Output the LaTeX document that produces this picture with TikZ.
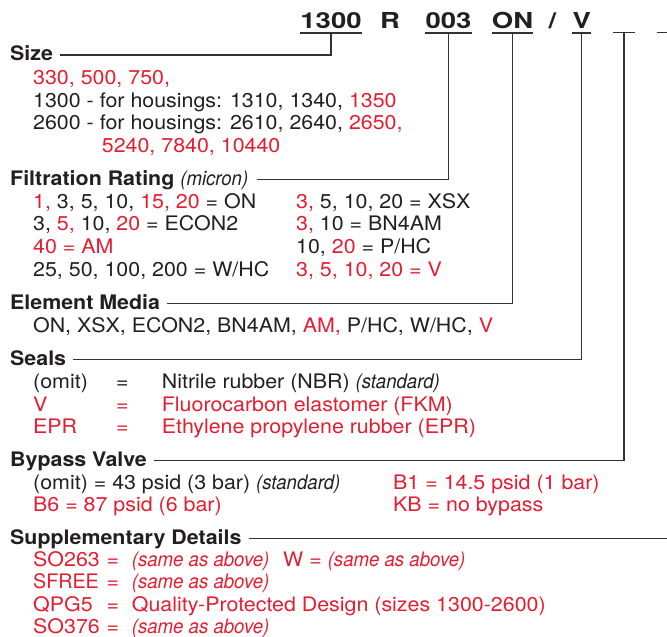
\documentclass[tikz,border=0pt]{standalone}
\usepackage{fontspec}
\setmainfont{TeX Gyre Heros}[FakeStretch=1.07]
\newfontfamily\itf{TeX Gyre Heros}[FakeStretch=0.93]
\newfontfamily\codef{TeX Gyre Heros}[FakeStretch=1.25]
\definecolor{rd}{RGB}{228,30,48}
\definecolor{ink}{RGB}{35,31,32}
\definecolor{ln}{RGB}{50,50,50}
\newcommand{\redt}[1]{\textcolor{rd}{#1}}
\newcommand{\myit}[1]{{\itf\itshape #1}}
\begin{document}
\begin{tikzpicture}[x=1pt,y=-1pt,
  txt/.style={anchor=base west, inner sep=0pt, text=ink, font=\fontsize{20}{24}\selectfont},
  redtxt/.style={txt, text=rd},
  head/.style={txt, font=\fontsize{20}{24}\selectfont\bfseries},
  codeseg/.style={anchor=base, inner sep=0pt, text depth=4.4pt, text=ink, font=\codef\fontsize{22}{26}\selectfont\bfseries},
  conn/.style={draw=ln, line width=1.2pt},
  uline/.style={draw=ln, line width=1.5pt},
]
\useasboundingbox (0,0) rectangle (667,637);

% ---- code line ----
\node[codeseg] (c1300) at (331,28.3) {1300};
\node[codeseg] (cR) at (390,28.3) {R};
\node[codeseg] (c003) at (448.5,28.3) {003};
\node[codeseg] (cON) at (512.5,28.3) {ON};
\node[codeseg] (cSl) at (552.5,28.3) {/};
\node[codeseg] (cV) at (581.7,28.3) {V};
\coordinate (cB1) at (624,32.7);
\coordinate (cB2) at (667.7,32.7);
\draw[uline] (c1300.south west) -- (c1300.south east);
\draw[uline] (c003.south west) -- (c003.south east);
\draw[uline] (cON.south west) -- (cON.south east);
\draw[uline] (cV.south west) -- (cV.south east);
\draw[uline] ([xshift=-11pt]cB1) -- ([xshift=11pt]cB1);
\draw[uline] ([xshift=-11pt]cB2) -- ([xshift=11pt]cB2);

% ---- Size ----
\node[head] (hSize) at (10,60.7) {Size};
\node[redtxt] (s1) at (33,84.5) {330, 500, 750,};
\node[txt] (s2) at (33,107.2) {1300 - for housings: 1310, 1340, \redt{1350}};
\node[txt] (s3) at (33,129.9) {2600 - for housings: 2610, 2640, \redt{2650,}};
\node[redtxt] (s4) at (101.7,152.6) {5240, 7840, 10440};

% ---- Filtration ----
\node[head] (hFilt) at (10,185) {Filtration Rating {\mdseries\myit{(micron)}}};
\node[txt] (f1) at (33,208.2) {\redt{1,} 3, 5, 10, \redt{15, 20} = ON};
\node[txt] (f2) at (33,230.8) {3, \redt{5,} 10, \redt{20} = ECON2};
\node[redtxt] (f3) at (33,253.4) {40 = AM};
\node[txt] (f4) at (33,276.1) {25, 50, 100, 200 = W/HC};
\node[txt] (g1) at (296,208.2) {\redt{3,} 5, 10, 20 = XSX};
\node[txt] (g2) at (296,230.8) {\redt{3,} 10 = BN4AM};
\node[txt] (g3) at (296,253.4) {10, \redt{20} = P/HC};
\node[redtxt] (g4) at (296,276.1) {3, 5, 10, 20 = V};

% ---- Element Media ----
\node[head] (hElem) at (10,309) {Element Media};
\node[txt] (e1) at (33,332.5) {ON, XSX, ECON2, BN4AM, \redt{AM,} P/HC, W/HC, \redt{V}};

% ---- Seals ----
\node[head] (hSeals) at (10,365) {Seals};
\node[txt] (sa1) at (33,388.5) {(omit)};
\node[txt] (sa2) at (116,388.5) {=};
\node[txt] (sa3) at (161.7,388.5) {Nitrile rubber (NBR) \myit{(standard)}};
\node[redtxt] (sb1) at (33,411) {V};
\node[redtxt] (sb2) at (116,411) {=};
\node[redtxt] (sb3) at (161.7,411) {Fluorocarbon elastomer (FKM)};
\node[redtxt] (sc1) at (33,433.5) {EPR};
\node[redtxt] (sc2) at (116,433.5) {=};
\node[redtxt] (sc3) at (161.7,433.5) {Ethylene propylene rubber (EPR)};

% ---- Bypass ----
\node[head] (hByp) at (10,466) {Bypass Valve};
\node[txt] (ba1) at (33,489) {(omit) = 43 psid (3 bar) \myit{(standard)}};
\node[redtxt] (ba2) at (393,489) {B1 = 14.5 psid (1 bar)};
\node[redtxt] (bb1) at (33,511.5) {B6 = 87 psid (6 bar)};
\node[redtxt] (bb2) at (393,511.5) {KB = no bypass};

% ---- Supplementary ----
\node[head] (hSupp) at (10,544.5) {Supplementary Details};
\coordinate (suppEnd) at (667,538.8);
\node[redtxt] (pa1) at (33,566) {SO263};
\node[redtxt] (pa2) at (106.5,566) {=};
\node[redtxt] (pa3) at (131.7,566) {\myit{(same as above)}};
\node[redtxt] (pa4) at (283,566) {W = \myit{(same as above)}};
\node[redtxt] (pb1) at (33,588.6) {\scalebox{0.92}[1]{SFREE}};
\node[redtxt] (pb2) at (106.5,588.6) {=};
\node[redtxt] (pb3) at (131.7,588.6) {\myit{(same as above)}};
\node[redtxt] (pc1) at (33,611) {QPG5};
\node[redtxt] (pc2) at (106.5,611) {=};
\node[redtxt] (pc3) at (131.7,611) {Quality-Protected Design (sizes 1300-2600)};
\node[redtxt] (pd1) at (33,633.5) {SO376};
\node[redtxt] (pd2) at (106.5,633.5) {=};
\node[redtxt] (pd3) at (131.7,633.5) {\myit{(same as above)}};

% ---- connectors ----
\draw[conn] ([xshift=7pt,yshift=5.7pt]hSize.base east) -| (c1300.south);
\draw[conn] ([xshift=9pt,yshift=5.7pt]hFilt.base east) -| (c003.south);
\draw[conn] ([xshift=7pt,yshift=5.7pt]hElem.base east) -| (cON.south);
\draw[conn] ([xshift=7pt,yshift=5.7pt]hSeals.base east) -| (cV.south);
\draw[conn] ([xshift=7pt,yshift=5.7pt]hByp.base east) -| (cB1);
\draw[conn] ([xshift=7pt,yshift=5.7pt]hSupp.base east) -- (suppEnd);
\end{tikzpicture}
\end{document}
